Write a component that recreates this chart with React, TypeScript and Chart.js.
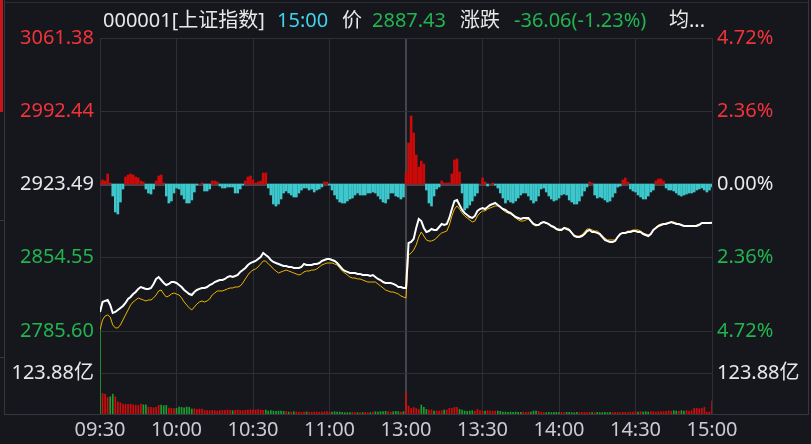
import React, { useEffect, useRef } from "react";
import { Chart, registerables } from "chart.js";

Chart.register(...registerables);

// ---------- data ----------
const PREV_CLOSE = 2923.49;
const PRICE_TICKS = [3061.38, 2992.44, 2923.49, 2854.55, 2785.6];
const PRICE_AXIS_MIN = 2707.48; // value at bottom of the volume pane
const VOL_TICK = 123.88; // 亿
const VOL_AXIS_MAX = 1136.1;
const STRENGTH_MIN = -230;
const STRENGTH_MAX = 146;
const TIME_TICKS = [0, 30, 60, 90, 120, 150, 180, 210, 240];
const TIME_LABELS = ["09:30", "10:00", "10:30", "11:00", "13:00", "13:30", "14:00", "14:30", "15:00"];

const HEADER_CODE = "000001[上证指数]";
const HEADER_TIME = "15:00";
const HEADER_PRICE_LABEL = "价";
const HEADER_PRICE = "2887.43";
const HEADER_CHANGE_LABEL = "涨跌";
const HEADER_CHANGE = "-36.06(-1.23%)";
const HEADER_AVG_LABEL = "均...";

const PRICE = [
  2803.5, 2812.9, 2813.9, 2814.8, 2810.1, 2802.6, 2803.5, 2805.4, 2807.3, 2809.2,
  2812.0, 2815.7, 2817.6, 2820.4, 2822.3, 2825.2, 2827.0, 2826.1, 2825.2, 2825.2,
  2826.1, 2829.9, 2834.6, 2836.4, 2833.6, 2830.8, 2828.9, 2829.9, 2831.7, 2831.7,
  2830.8, 2828.9, 2827.0, 2824.2, 2822.3, 2820.4, 2819.5, 2822.3, 2824.2, 2825.2,
  2826.1, 2826.1, 2827.0, 2828.9, 2829.9, 2831.7, 2832.7, 2833.6, 2833.6, 2834.6,
  2836.4, 2837.4, 2836.4, 2837.4, 2838.3, 2841.2, 2843.0, 2844.9, 2847.7, 2849.6,
  2850.6, 2851.5, 2853.4, 2855.3, 2859.0, 2857.1, 2855.3, 2852.4, 2850.6, 2849.6,
  2848.7, 2847.7, 2846.8, 2846.8, 2845.9, 2845.9, 2844.9, 2844.9, 2844.9, 2845.9,
  2848.7, 2847.7, 2847.7, 2847.7, 2848.7, 2848.7, 2849.6, 2851.5, 2852.4, 2853.4,
  2853.4, 2852.4, 2851.5, 2849.6, 2846.8, 2844.0, 2842.1, 2841.2, 2840.2, 2840.2,
  2840.2, 2839.3, 2839.3, 2838.3, 2838.3, 2838.3, 2837.4, 2838.3, 2836.4, 2834.6,
  2833.6, 2831.7, 2830.8, 2830.8, 2830.8, 2829.9, 2828.9, 2827.0, 2827.0, 2826.1,
  2826.1, 2868.4, 2869.4, 2872.2, 2882.6, 2891.0, 2889.1, 2882.6, 2878.8, 2879.7,
  2881.6, 2880.7, 2880.7, 2883.5, 2886.3, 2885.4, 2886.3, 2892.0, 2900.4, 2908.0,
  2908.9, 2904.2, 2899.5, 2896.7, 2894.8, 2892.9, 2892.0, 2893.9, 2898.6, 2900.4,
  2901.4, 2900.4, 2902.3, 2904.2, 2905.1, 2906.1, 2904.2, 2902.3, 2900.4, 2899.5,
  2897.6, 2896.7, 2894.8, 2892.9, 2892.0, 2891.0, 2892.0, 2892.0, 2892.0, 2889.1,
  2886.3, 2885.4, 2885.4, 2887.3, 2888.2, 2887.3, 2886.3, 2884.4, 2883.5, 2881.6,
  2880.7, 2880.7, 2882.6, 2881.6, 2880.7, 2877.9, 2875.0, 2874.1, 2874.1, 2875.0,
  2876.9, 2879.7, 2880.7, 2878.8, 2878.8, 2877.9, 2876.9, 2874.1, 2871.3, 2870.3,
  2869.4, 2869.4, 2870.3, 2874.1, 2876.9, 2877.9, 2877.9, 2878.8, 2878.8, 2879.7,
  2879.7, 2878.8, 2878.8, 2876.9, 2876.0, 2875.0, 2876.9, 2880.7, 2882.6, 2884.4,
  2885.4, 2886.3, 2886.3, 2887.3, 2888.2, 2887.3, 2886.3, 2886.3, 2885.4, 2884.4,
  2884.4, 2884.4, 2884.4, 2884.4, 2884.4, 2885.4, 2887.3, 2887.3, 2887.3, 2887.3,
  2887.43,
];

const AVG = [
  2786.6, 2796.0, 2799.7, 2800.7, 2798.8, 2791.3, 2788.5, 2788.5, 2791.3, 2796.0,
  2800.7, 2805.4, 2810.1, 2812.9, 2814.8, 2816.7, 2815.7, 2814.8, 2813.9, 2814.8,
  2814.8, 2816.7, 2819.5, 2823.3, 2824.2, 2820.4, 2817.6, 2818.6, 2820.4, 2821.4,
  2820.4, 2819.5, 2816.7, 2812.9, 2810.1, 2807.3, 2805.4, 2808.2, 2811.0, 2812.9,
  2813.9, 2812.9, 2813.9, 2815.7, 2819.5, 2821.4, 2823.3, 2823.3, 2823.3, 2824.2,
  2825.2, 2826.1, 2826.1, 2827.0, 2827.0, 2828.0, 2830.8, 2834.6, 2838.3, 2841.2,
  2843.0, 2844.0, 2845.9, 2848.7, 2851.5, 2851.5, 2848.7, 2846.8, 2844.0, 2842.1,
  2840.2, 2841.2, 2842.1, 2843.0, 2842.1, 2841.2, 2840.2, 2839.3, 2838.3, 2839.3,
  2841.2, 2842.1, 2842.1, 2843.0, 2843.0, 2844.0, 2845.9, 2847.7, 2848.7, 2849.6,
  2849.6, 2849.6, 2848.7, 2847.7, 2844.9, 2842.1, 2840.2, 2838.3, 2836.4, 2835.5,
  2835.5, 2834.6, 2834.6, 2833.6, 2832.7, 2831.7, 2831.7, 2831.7, 2831.7, 2829.9,
  2828.0, 2826.1, 2824.2, 2823.3, 2822.3, 2822.3, 2821.4, 2820.4, 2818.6, 2817.6,
  2816.7, 2857.1, 2859.0, 2861.8, 2866.6, 2874.1, 2878.8, 2875.0, 2871.3, 2870.3,
  2870.3, 2871.3, 2873.1, 2876.0, 2877.9, 2878.8, 2879.7, 2885.4, 2893.9, 2900.4,
  2903.3, 2900.4, 2896.7, 2893.9, 2892.0, 2890.1, 2888.2, 2889.1, 2893.9, 2896.7,
  2898.6, 2898.6, 2900.4, 2901.4, 2902.3, 2903.3, 2903.3, 2902.3, 2899.5, 2897.6,
  2896.7, 2895.7, 2893.9, 2892.0, 2890.1, 2889.1, 2889.1, 2890.1, 2891.0, 2888.2,
  2885.4, 2884.4, 2885.4, 2887.3, 2888.2, 2887.3, 2885.4, 2884.4, 2882.6, 2881.6,
  2881.6, 2881.6, 2882.6, 2882.6, 2881.6, 2877.9, 2876.0, 2875.0, 2875.0, 2876.0,
  2878.8, 2881.6, 2881.6, 2880.7, 2879.7, 2879.7, 2877.9, 2875.0, 2873.1, 2871.3,
  2871.3, 2871.3, 2871.3, 2874.1, 2876.9, 2877.9, 2877.9, 2879.7, 2879.7, 2880.7,
  2880.7, 2880.7, 2879.7, 2877.9, 2876.9, 2876.0, 2876.9, 2880.7, 2883.5, 2885.4,
  2886.3, 2886.3, 2887.3, 2887.3, 2888.2, 2888.2, 2887.3, 2886.3, 2885.4, 2884.4,
  2884.4, 2884.4, 2884.4, 2884.4, 2885.4, 2886.3, 2887.3, 2887.3, 2887.3, 2887.3,
  2887.3,
];

const STRENGTH = [
  2, 4, 3, 10, 1, -12, -28, -30, -18, -5,
  7, 9, 10, 9, 7, 6, 3, 2, -5, -9,
  -10, -5, 3, 8, 9, 1, -12, -19, -17, -9,
  -4, -5, -11, -15, -19, -19, -16, -8, -1, 0,
  1, -7, -7, -5, 3, 3, 2, -2, -4, -4,
  -3, -3, -3, -9, -9, -5, -1, 3, 7, 8,
  4, 1, 2, 3, 11, 11, -4, -11, -20, -22,
  -20, -15, -9, -7, -9, -11, -13, -13, -9, -6,
  -4, -4, -6, -5, -8, -6, -5, -3, 2, 2,
  -1, -6, -11, -15, -18, -19, -19, -17, -15, -14,
  -11, -9, -11, -11, -11, -9, -9, -8, -9, -12,
  -15, -18, -19, -15, -9, -9, -12, -13, -15, -13,
  11, 41, 68, 51, 29, 17, 23, 20, -6, -19,
  -22, -12, -5, -3, 3, 1, 1, 1, 10, 24,
  25, 12, -9, -26, -24, -21, -17, -12, -9, 0,
  6, 2, -2, 0, 1, -1, -4, -9, -14, -19,
  -16, -18, -19, -17, -14, -11, -9, -9, -12, -16,
  -19, -17, -12, -5, -4, -8, -12, -15, -17, -16,
  -14, -11, -10, -11, -16, -18, -20, -20, -17, -12,
  -7, -3, 2, 1, -11, -14, -13, -14, -16, -18,
  -17, -13, -9, -3, -2, 4, 6, 2, -5, -7,
  -8, -11, -13, -15, -15, -12, -8, -6, 3, 5,
  5, 3, -4, -6, -6, -7, -9, -11, -12, -11,
  -10, -9, -9, -8, -6, -5, -4, -6, -8, -6,
  -3,
];

// turnover per minute, 亿
const VOLUME = [
  254,
  62, 60, 50, 52, 60, 52, 37, 34, 30, 29,
  29, 30, 28, 27, 26, 30, 28, 28, 21, 20,
  19, 20, 26, 27, 25, 26, 18, 17, 16, 17,
  21, 20, 19, 21, 20, 15, 16, 14, 15, 15,
  11, 10, 10, 11, 10, 9, 10, 11, 11, 12,
  11, 10, 11, 12, 11, 10, 11, 12, 13, 12,
  12, 13, 12, 11, 12, 9, 10, 9, 8, 9,
  9, 8, 7, 6, 6, 7, 6, 6, 5, 6,
  6, 6, 5, 6, 6, 5, 6, 6, 7, 6,
  6, 7, 6, 6, 5, 4, 4, 4, 5, 4,
  4, 4, 4, 5, 4, 4, 6, 7, 6, 7,
  7, 8, 7, 6, 7, 8, 7, 6, 7, 64,
  24, 17, 20, 17, 14, 27, 20, 14, 12, 12,
  9, 9, 9, 10, 12, 12, 17, 17, 20, 20,
  14, 12, 9, 8, 9, 10, 8, 14, 10, 9,
  9, 10, 9, 8, 9, 9, 8, 6, 6, 5,
  6, 5, 6, 5, 5, 6, 5, 6, 6, 9,
  9, 8, 5, 5, 4, 5, 4, 5, 5, 4,
  5, 4, 5, 5, 4, 4, 5, 4, 5, 5,
  4, 5, 4, 4, 5, 4, 4, 5, 4, 5,
  4, 5, 5, 4, 5, 5, 4, 6, 6, 7,
  6, 7, 6, 7, 6, 7, 7, 6, 7, 7,
  7, 8, 9, 8, 10, 9, 8, 10, 9, 10,
  9, 10, 17, 17, 16, 17, 20, 6, 6, 40,
];

// ---------- style ----------
const BG = "#15171c";
const GRID = "#2d2f35";
const GRID_STRONG = "#43464c";
const FRAME = "#34373d";
const RED_TEXT = "#f2333b";
const GREEN_TEXT = "#22b450";
const WHITE_TEXT = "#e8e8e8";
const CYAN_TEXT = "#3fd3ee";
const TIME_TEXT = "#c9ccd2";
const BAR_RED = "#cc0a0a";
const BAR_CYAN = "#3cc8cc";
const VOL_RED = "#d40b0b";
const VOL_GREEN = "#1e9e31";
const FONT_FAMILY = "'Noto Sans', 'Noto Sans CJK SC', sans-serif";

const pct = (p: number) => (p / PREV_CLOSE - 1) * 100;
// price-scale value that sits at the top of the volume pane (volume = VOL_TICK)
const VOL_LINE_PRICE = PRICE_AXIS_MIN + (VOL_TICK / VOL_AXIS_MAX) * (PRICE_TICKS[0] - PRICE_AXIS_MIN);
const VOL_LABEL = VOL_TICK.toFixed(2) + "亿";
const VOL_IDX = PRICE_TICKS.length;

export default function App() {
  const ref = useRef<HTMLCanvasElement | null>(null);

  useEffect(() => {
    document.body.style.margin = "0";
    document.body.style.background = BG;
    const canvas = ref.current!;
    const font = { family: FONT_FAMILY, size: 20 };

    const volColors = VOLUME.map((_, i) => {
      const prev = i === 0 ? PREV_CLOSE : PRICE[i - 1];
      return PRICE[i] >= prev ? VOL_RED : VOL_GREEN;
    });

    const chart = new Chart(canvas, {
      type: "bar",
      data: {
        datasets: [
          {
            type: "line",
            label: "价",
            data: PRICE.map((y, i) => ({ x: i, y })),
            borderColor: "#ffffff",
            borderWidth: 2,
            pointRadius: 0,
            tension: 0,
            yAxisID: "y",
            order: 0,
          },
          {
            type: "line",
            label: "均价",
            data: AVG.map((y, i) => ({ x: i, y })),
            borderColor: "#f2b400",
            borderWidth: 1,
            pointRadius: 0,
            tension: 0,
            yAxisID: "y",
            order: 1,
          },
          {
            type: "bar",
            label: "强弱",
            data: STRENGTH.map((y, i) => ({ x: i, y })),
            backgroundColor: STRENGTH.map((v) => (v >= 0 ? BAR_RED : BAR_CYAN)),
            barThickness: 2,
            grouped: false,
            yAxisID: "yS",
            order: 2,
          },
          {
            type: "bar",
            label: "成交额",
            data: VOLUME.map((y, i) => ({ x: i, y })),
            backgroundColor: volColors,
            barThickness: 1,
            grouped: false,
            yAxisID: "yV",
            order: 3,
          },
        ],
      } as any,
      options: {
        animation: false,
        responsive: false,
        devicePixelRatio: 1,
        layout: { padding: { top: 38, left: 0, right: 0, bottom: 0 } },
        plugins: { legend: { display: false }, tooltip: { enabled: false } },
        scales: {
          x: {
            type: "linear",
            min: 0,
            max: 240,
            offset: false,
            afterBuildTicks: (s: any) => {
              s.ticks = TIME_TICKS.map((v) => ({ value: v }));
            },
            afterFit: (s: any) => {
              s.height = 30;
            },
            ticks: {
              autoSkip: false,
              maxRotation: 0,
              padding: 4,
              color: TIME_TEXT,
              font,
              callback: (_v: any, idx: number) => TIME_LABELS[idx],
            },
            grid: {
              offset: false,
              drawTicks: false,
              color: (c: any) => (c.index === 4 ? GRID_STRONG : GRID),
              lineWidth: (c: any) => (c.index === 4 ? 2 : 1),
            },
            border: { display: true, color: FRAME },
          },
          y: {
            type: "linear",
            position: "left",
            min: PRICE_AXIS_MIN,
            max: PRICE_TICKS[0],
            afterBuildTicks: (s: any) => {
              s.ticks = [...PRICE_TICKS, VOL_LINE_PRICE].map((v) => ({ value: v }));
            },
            afterFit: (s: any) => {
              s.width = 100;
            },
            ticks: {
              padding: 6,
              font,
              callback: (v: any, idx: number) => (idx === VOL_IDX ? VOL_LABEL : Number(v).toFixed(2)),
              color: (c: any) => {
                if (c.index === VOL_IDX) return WHITE_TEXT;
                const v = c.tick ? c.tick.value : 0;
                if (Math.abs(v - PREV_CLOSE) < 0.01) return WHITE_TEXT;
                return v > PREV_CLOSE ? RED_TEXT : GREEN_TEXT;
              },
            },
            grid: {
              drawTicks: false,
              color: (c: any) => (c.index === 2 ? GRID_STRONG : GRID),
              lineWidth: (c: any) => (c.index === 2 ? 2 : 1),
            },
            border: { display: false },
          },
          yP: {
            type: "linear",
            position: "right",
            min: pct(PRICE_AXIS_MIN),
            max: pct(PRICE_TICKS[0]),
            afterBuildTicks: (s: any) => {
              s.ticks = [...PRICE_TICKS, VOL_LINE_PRICE].map((p) => ({ value: pct(p) }));
            },
            afterFit: (s: any) => {
              s.width = 99;
            },
            ticks: {
              padding: 5,
              font,
              callback: (v: any, idx: number) =>
                idx === VOL_IDX ? VOL_LABEL : Math.abs(Number(v)).toFixed(2) + "%",
              color: (c: any) => {
                if (c.index === VOL_IDX) return WHITE_TEXT;
                const v = c.tick ? c.tick.value : 0;
                if (Math.abs(v) < 0.001) return WHITE_TEXT;
                return v > 0 ? RED_TEXT : GREEN_TEXT;
              },
            },
            grid: { display: false, drawTicks: false },
            border: { display: false },
          },
          yV: {
            type: "linear",
            display: false,
            min: 0,
            max: VOL_AXIS_MAX,
          },
          yS: {
            type: "linear",
            display: false,
            min: STRENGTH_MIN,
            max: STRENGTH_MAX,
          },
        },
      } as any,
    });
    return () => chart.destroy();
  }, []);

  const span = (text: string, left: number, color: string) => (
    <span style={{ position: "absolute", left, top: 6, color, whiteSpace: "nowrap" }}>{text}</span>
  );

  return (
    <div
      style={{
        position: "absolute",
        left: 0,
        top: 0,
        width: 811,
        height: 444,
        background: BG,
        overflow: "hidden",
        fontFamily: FONT_FAMILY,
        fontSize: 20,
        lineHeight: "28px",
      }}
    >
      <canvas ref={ref} width={811} height={444} style={{ position: "absolute", left: 0, top: 0, width: 811, height: 444 }} />
      {/* frame */}
      <div style={{ position: "absolute", left: 0, top: 0, width: 3, height: 112, background: "#c4161c" }} />
      <div style={{ position: "absolute", left: 4, top: 0, width: 1, height: 414, background: FRAME }} />
      <div style={{ position: "absolute", left: 0, top: 220, width: 4, height: 1, background: FRAME }} />
      <div style={{ position: "absolute", left: 0, top: 357, width: 4, height: 1, background: FRAME }} />
      <div style={{ position: "absolute", left: 4, top: 414, width: 805, height: 1, background: FRAME }} />
      <div style={{ position: "absolute", left: 808, top: 0, width: 1, height: 414, background: FRAME }} />
      <div style={{ position: "absolute", left: 4, top: 2, width: 805, height: 1, background: "#2a2c31" }} />
      {/* header */}
      {span(HEADER_CODE, 103, WHITE_TEXT)}
      {span(HEADER_TIME, 277, CYAN_TEXT)}
      {span(HEADER_PRICE_LABEL, 342, WHITE_TEXT)}
      {span(HEADER_PRICE, 372, GREEN_TEXT)}
      {span(HEADER_CHANGE_LABEL, 460, WHITE_TEXT)}
      {span(HEADER_CHANGE, 514, GREEN_TEXT)}
      {span(HEADER_AVG_LABEL, 669, WHITE_TEXT)}
    </div>
  );
}
